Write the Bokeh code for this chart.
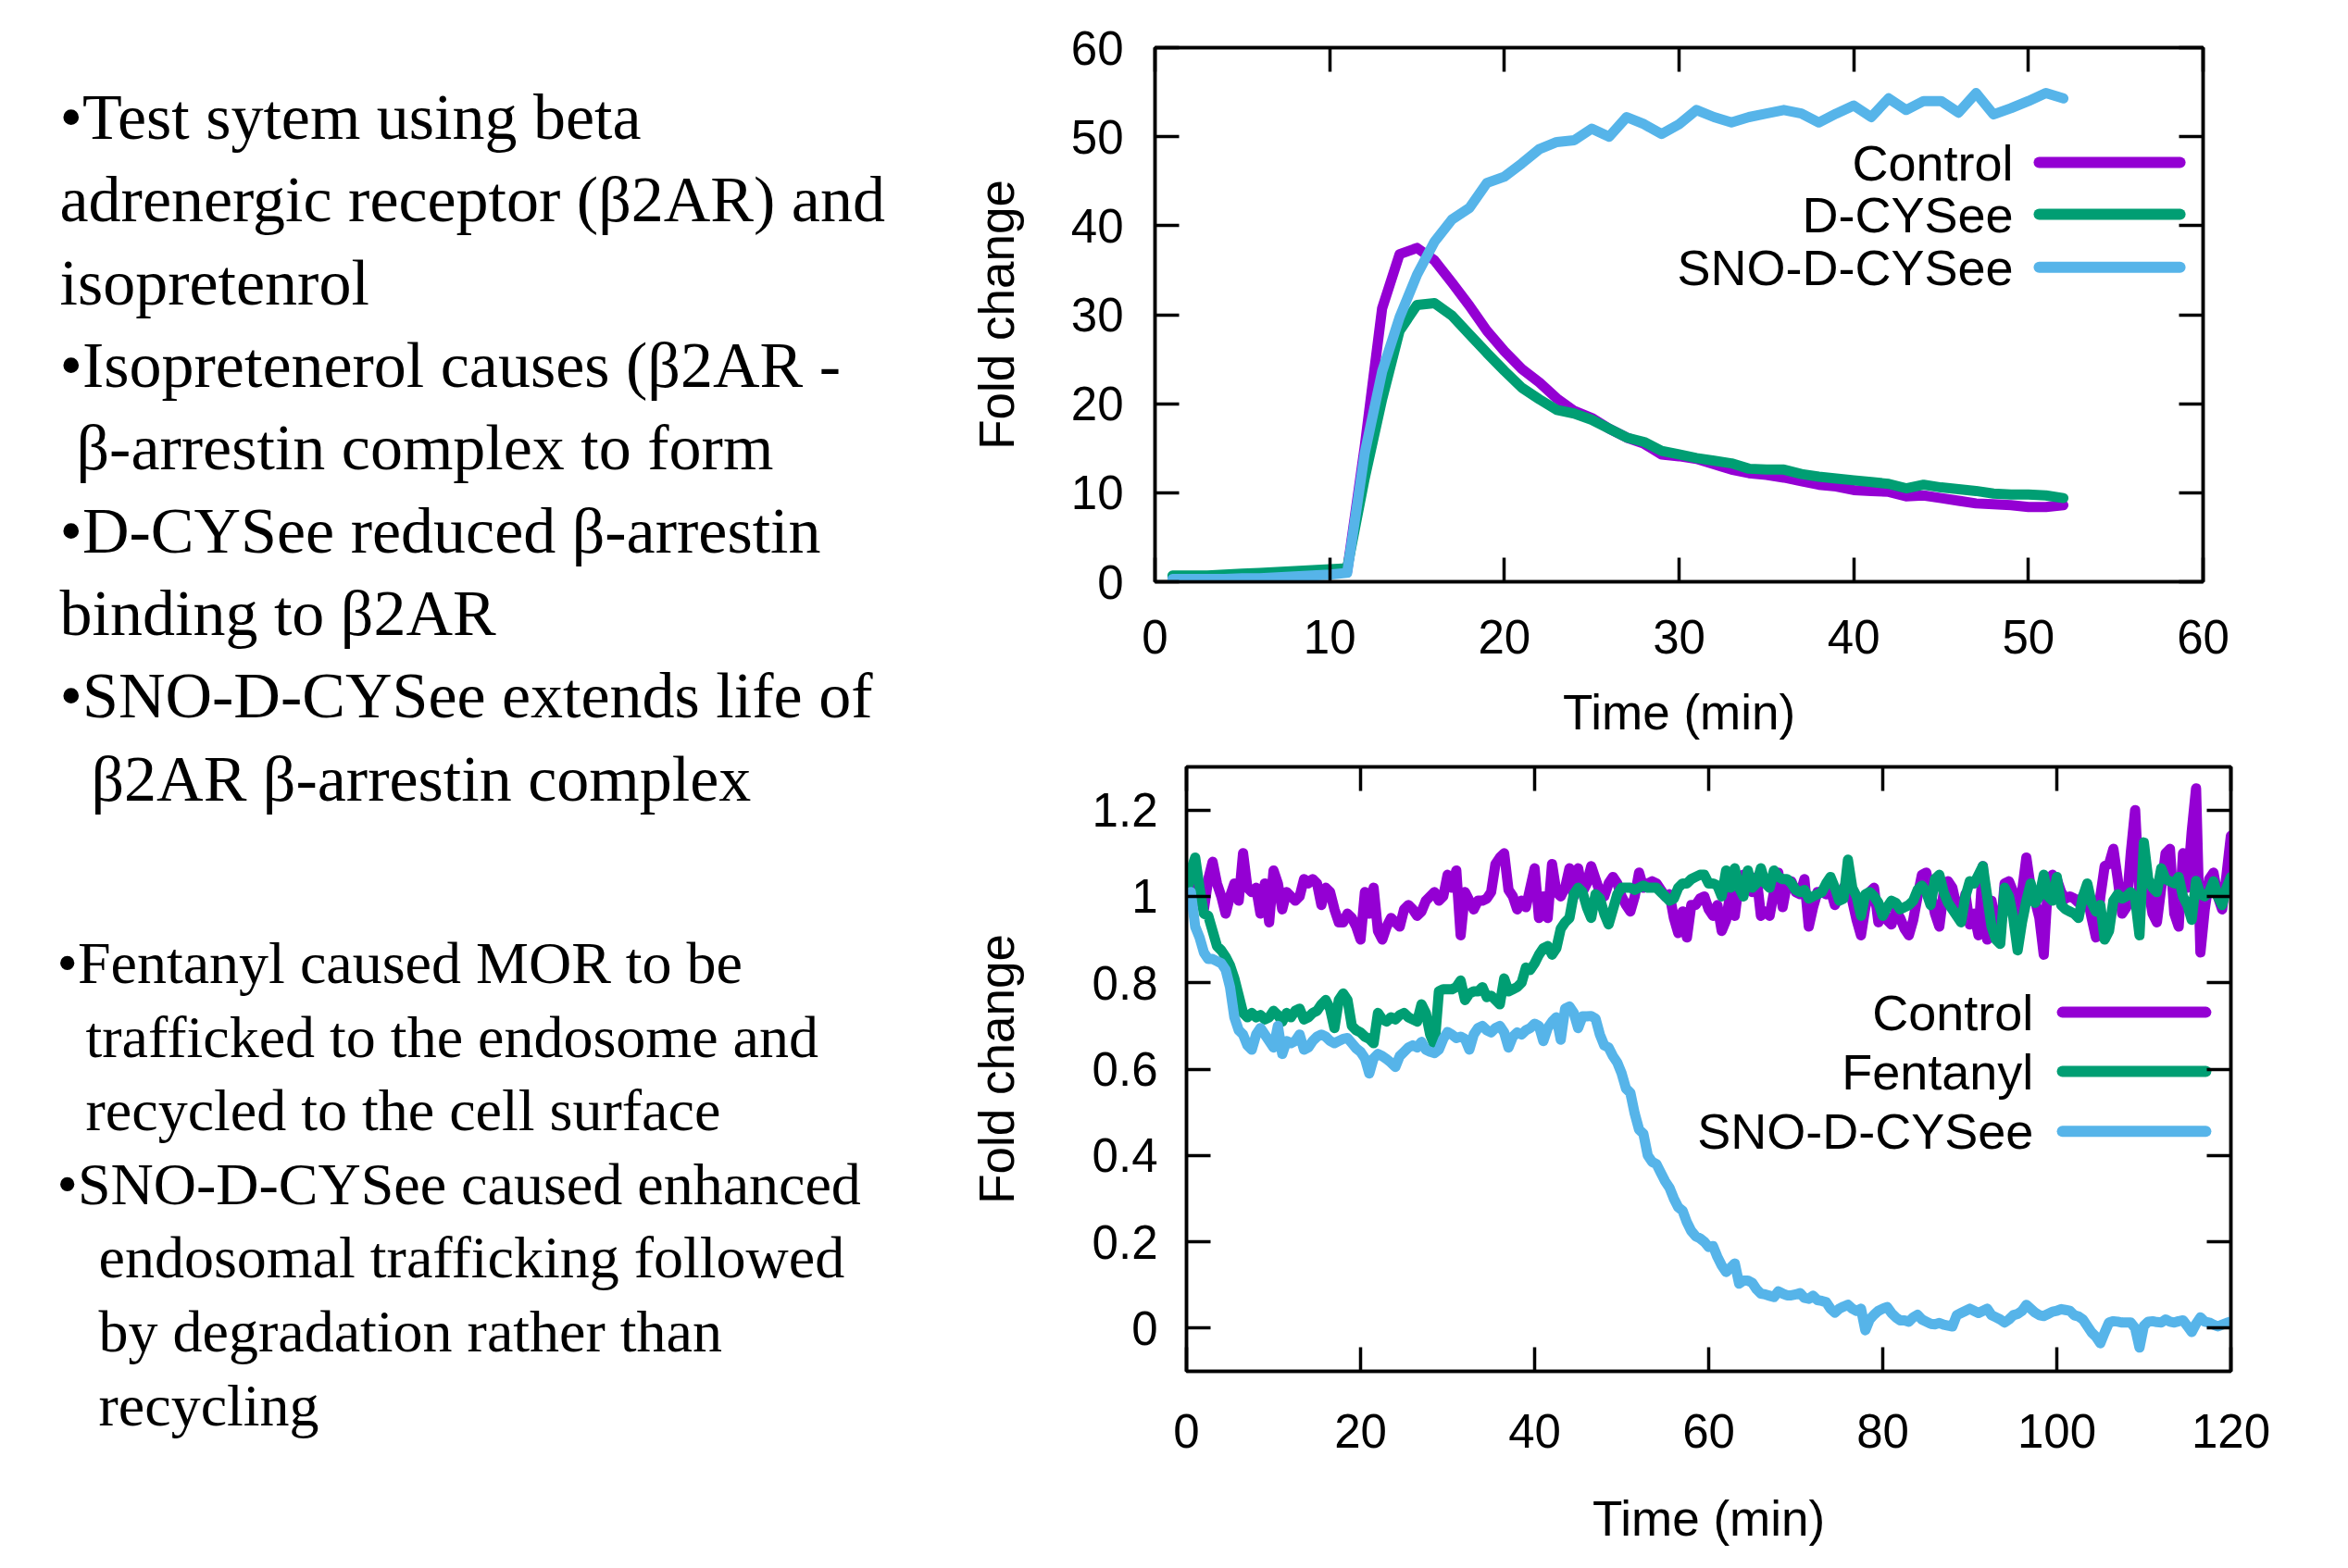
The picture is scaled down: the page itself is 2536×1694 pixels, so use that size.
from bokeh.plotting import figure
from bokeh.models import Range1d, LinearAxis, FixedTicker, CustomJSTickFormatter, Label
from bokeh.layouts import row, column
from bokeh.embed import file_html
from bokeh.resources import INLINE
from bokeh.core.properties import value

# ---------------- data: top chart (beta2AR / beta-arrestin) ----------------
top_time = list(range(1, 53))
top_control = [0.5, 0.5, 0.5, 0.5, 0.6, 0.6, 0.7, 0.8, 0.9, 1.0, 1.2,
               15.1, 30.7, 36.8, 37.5, 36.1, 33.6, 31.0, 28.2, 25.9, 23.9, 22.4, 20.6,
               19.2, 18.4, 17.2, 16.2, 15.5, 14.3, 14.1, 13.8, 13.2, 12.6, 12.2, 12.0,
               11.7, 11.3, 10.9, 10.7, 10.3, 10.2, 10.1, 9.6, 9.7, 9.4, 9.1, 8.8,
               8.7, 8.6, 8.4, 8.4, 8.6]
top_dcysee = [0.7, 0.7, 0.7, 0.8, 0.9, 1.0, 1.1, 1.2, 1.3, 1.4, 1.5,
              11.6, 20.5, 28.2, 31.1, 31.3, 29.9, 27.8, 25.7, 23.7, 21.8, 20.5, 19.3,
              18.9, 18.2, 17.2, 16.2, 15.7, 14.7, 14.3, 13.9, 13.6, 13.3, 12.7, 12.6,
              12.6, 12.1, 11.8, 11.6, 11.4, 11.2, 11.0, 10.5, 10.9, 10.6, 10.4, 10.2,
              9.9, 9.8, 9.8, 9.7, 9.4]
top_sno = [0.3, 0.3, 0.3, 0.3, 0.4, 0.4, 0.5, 0.6, 0.7, 0.8, 1.0,
           14.4, 23.6, 29.7, 34.5, 38.2, 40.7, 42.0, 44.8, 45.5, 47.0, 48.6, 49.4,
           49.6, 50.9, 50.0, 52.2, 51.4, 50.3, 51.4, 53.0, 52.2, 51.6, 52.2, 52.6,
           53.0, 52.6, 51.6, 52.6, 53.5, 52.2, 54.3, 53.0, 54.0, 54.0, 52.7, 54.9,
           52.5, 53.2, 54.0, 54.9, 54.3]
top_labels = ["Control", "D-CYSee", "SNO-D-CYSee"]
top_xticks = [0, 10, 20, 30, 40, 50, 60]
top_yticks = [0, 10, 20, 30, 40, 50, 60]

# ---------------- data: bottom chart (MOR) ----------------
bot_time = [k / 2 for k in range(241)]  # 0 .. 120 min, every 30 s
bot_control = [
    0.98, 1.03, 1.06, 1.00, 0.97, 1.04, 1.08, 1.03, 1.00, 0.96,
    1.00, 1.03, 0.99, 1.10, 1.02, 1.01, 1.02, 0.96, 1.03, 0.94,
    1.06, 1.03, 0.97, 1.01, 1.00, 0.99, 1.00, 1.04, 1.03, 1.04,
    1.03, 0.98, 1.02, 1.01, 0.97, 0.94, 0.94, 0.96, 0.95, 0.93,
    0.90, 1.01, 0.96, 1.02, 0.92, 0.90, 0.93, 0.95, 0.94, 0.93,
    0.97, 0.98, 0.97, 0.955, 0.965, 0.99, 1.00, 1.01, 0.99, 1.00, 1.05,
    1.02, 1.06, 0.91, 1.01, 0.99, 0.97, 0.99, 0.99, 0.995, 1.01,
    1.075, 1.09, 1.10, 1.015, 1.00, 0.97, 0.99, 0.975, 1.02, 1.065,
    0.95, 1.00, 0.95, 1.075, 1.01, 1.00, 1.02, 1.065, 1.00, 1.065,
    1.01, 1.03, 1.07, 1.04, 1.01, 1.00, 1.03, 1.045, 1.03, 1.00,
    0.98, 0.965, 1.00, 1.055, 1.02, 1.03, 1.035, 1.03, 1.015, 1.00,
    1.005, 0.95, 0.915, 0.965, 0.905, 0.98, 0.98, 0.995, 1.0, 0.97,
    0.955, 0.98, 0.92, 0.945, 1.01, 0.955, 1.035, 1.05, 1.05, 1.01,
    1.045, 0.955, 0.965, 0.955, 1.01, 1.055, 0.975, 1.03, 1.035, 1.01,
    1.005, 1.04, 0.93, 0.975, 1.01, 1.01, 1.005, 1.015, 0.98, 1.0,
    1.02, 1.035, 0.99, 0.945, 0.91, 0.975, 1.01, 1.02, 0.94, 0.97,
    0.945, 0.935, 0.965, 0.95, 0.925, 0.91, 0.945, 1.00, 1.05, 1.055,
    1.01, 0.96, 0.93, 1.01, 1.035, 1.02, 0.975, 0.95, 1.005, 0.935,
    0.96, 0.91, 1.07, 0.90, 0.99, 0.93, 0.91, 1.03, 1.035, 1.01,
    0.92, 1.01, 1.09, 1.02, 0.99, 0.95, 0.865, 1.035, 1.05, 1.04,
    1.01, 0.995, 1.0, 0.995, 0.985, 1.0, 1.0, 0.95, 0.905, 1.00,
    1.07, 1.075, 1.11, 1.04, 0.96, 0.975, 1.10, 1.20, 1.0, 1.10,
    1.02, 0.96, 0.94, 1.02, 1.10, 1.11, 0.96, 0.93, 1.10, 1.02,
    1.15, 1.25, 0.87, 0.97, 1.04, 1.055, 1.00, 0.97, 1.05, 1.14]
bot_fentanyl = [
    1.00, 1.06, 1.09, 1.02, 0.96, 0.955, 0.92, 0.885, 0.875, 0.86,
    0.84, 0.81, 0.77, 0.73, 0.72, 0.73, 0.72, 0.725, 0.715, 0.72,
    0.735, 0.725, 0.71, 0.73, 0.72, 0.735, 0.74, 0.715, 0.72, 0.73,
    0.735, 0.75, 0.76, 0.74, 0.695, 0.76, 0.775, 0.76, 0.70, 0.69,
    0.685, 0.675, 0.67, 0.66, 0.73, 0.715, 0.71, 0.72, 0.715, 0.725,
    0.73, 0.72, 0.715, 0.71, 0.75, 0.73, 0.68, 0.655, 0.78, 0.785, 0.785,
    0.785, 0.79, 0.805, 0.76, 0.775, 0.78, 0.78, 0.79, 0.767, 0.77,
    0.76, 0.75, 0.81, 0.78, 0.785, 0.79, 0.80, 0.835, 0.83, 0.845,
    0.865, 0.88, 0.885, 0.865, 0.88, 0.925, 0.94, 0.95, 1.005, 1.02,
    1.01, 0.975, 0.95, 1.005, 0.995, 0.96, 0.935, 0.97, 1.005, 1.02,
    1.02, 1.02, 1.015, 1.02, 1.025, 1.02, 1.02, 1.02, 1.01, 1.00,
    0.99, 0.995, 1.02, 1.03, 1.03, 1.04, 1.045, 1.05, 1.05, 1.03,
    1.03, 1.025, 1.00, 1.06, 1.02, 1.065, 1.02, 1.00, 1.06, 1.02,
    1.03, 1.065, 1.03, 1.02, 1.06, 1.045, 1.04, 1.04, 1.03, 1.015,
    1.01, 1.015, 0.995, 1.00, 1.005, 1.01, 1.03, 1.045, 1.02, 0.99,
    0.995, 1.085, 1.02, 1.00, 0.955, 1.005, 1.01, 1.00, 0.985, 0.955,
    0.975, 0.99, 0.985, 0.97, 0.975, 0.98, 0.99, 1.015, 1.025, 1.01,
    0.98, 1.04, 1.05, 1.01, 0.985, 0.97, 0.955, 0.94, 1.0, 1.035,
    1.03, 1.05, 1.07, 1.00, 0.93, 0.90, 0.89, 1.02, 1.00, 0.95,
    0.875, 0.94, 0.99, 1.03, 0.985, 1.00, 1.05, 1.00, 0.99, 1.045,
    0.98, 0.97, 0.965, 0.96, 0.95, 1.00, 1.03, 0.985, 0.965, 0.98,
    0.90, 0.92, 0.99, 1.005, 0.995, 1.0, 1.01, 0.995, 0.91, 1.125,
    1.04, 1.02, 1.01, 1.065, 1.04, 1.035, 1.03, 1.045, 1.0, 0.98,
    0.946, 1.036, 1.005, 1.0, 1.01, 1.035, 1.0, 0.98, 1.02, 1.045]
bot_sno = [
    0.98, 1.01, 0.93, 0.905, 0.87, 0.855, 0.855, 0.85, 0.845, 0.83,
    0.79, 0.72, 0.69, 0.68, 0.655, 0.645, 0.68, 0.695, 0.68, 0.665,
    0.65, 0.70, 0.635, 0.665, 0.66, 0.665, 0.68, 0.645, 0.65, 0.665,
    0.675, 0.68, 0.675, 0.665, 0.66, 0.665, 0.67, 0.672, 0.66, 0.648,
    0.64, 0.625, 0.59, 0.625, 0.635, 0.63, 0.623, 0.615, 0.605, 0.63,
    0.64, 0.65, 0.655, 0.65, 0.663, 0.645, 0.64, 0.637, 0.645, 0.67, 0.686,
    0.68, 0.672, 0.675, 0.67, 0.645, 0.68, 0.695, 0.70, 0.69, 0.685,
    0.695, 0.70, 0.685, 0.65, 0.675, 0.685, 0.68, 0.69, 0.695, 0.705,
    0.70, 0.665, 0.695, 0.71, 0.72, 0.668, 0.74, 0.745, 0.73, 0.695,
    0.722, 0.722, 0.723, 0.717, 0.68, 0.655, 0.65, 0.63, 0.615, 0.59,
    0.555, 0.545, 0.497, 0.46, 0.45, 0.40, 0.385, 0.38, 0.36, 0.34,
    0.325, 0.30, 0.28, 0.272, 0.245, 0.225, 0.213, 0.208, 0.20, 0.188,
    0.19, 0.165, 0.145, 0.13, 0.14, 0.15, 0.103, 0.11, 0.11, 0.105,
    0.09, 0.08, 0.078, 0.075, 0.072, 0.085, 0.08, 0.076, 0.076, 0.078,
    0.081, 0.07, 0.068, 0.075, 0.065, 0.063, 0.06, 0.045, 0.036, 0.045,
    0.05, 0.054, 0.045, 0.04, 0.045, -0.005, 0.02, 0.031, 0.04, 0.045,
    0.049, 0.035, 0.025, 0.018, 0.018, 0.015, 0.025, 0.031, 0.02, 0.015,
    0.01, 0.009, 0.012, 0.008, 0.006, 0.004, 0.03, 0.035, 0.04, 0.045,
    0.04, 0.035, 0.04, 0.045, 0.03, 0.025, 0.02, 0.013, 0.02, 0.03,
    0.033, 0.04, 0.054, 0.045, 0.036, 0.03, 0.028, 0.033, 0.038, 0.04,
    0.044, 0.042, 0.04, 0.03, 0.027, 0.02, 0.005, -0.01, -0.02, -0.035,
    -0.01, 0.013, 0.016, 0.015, 0.013, 0.013, 0.013, 0.0, -0.045, 0.005,
    0.015, 0.016, 0.014, 0.013, 0.02, 0.015, 0.013, 0.016, 0.018, 0.005,
    -0.009, 0.01, 0.025, 0.015, 0.013, 0.008, 0.004, 0.008, 0.012, 0.015]
bot_labels = ["Control", "Fentanyl", "SNO-D-CYSee"]
bot_xticks = [0, 20, 40, 60, 80, 100, 120]
bot_yticks = [0, 0.2, 0.4, 0.6, 0.8, 1.0, 1.2]

# ---------------- slide text ----------------
text_block1 = ["\u2022Test sytem using beta",
               "adrenergic receptor (\u03b22AR) and",
               "isopretenrol",
               "\u2022Isopretenerol causes (\u03b22AR -",
               "\u03b2-arrestin complex to form",
               "\u2022D-CYSee reduced \u03b2-arrestin",
               "binding to \u03b22AR",
               "\u2022SNO-D-CYSee extends life of",
               "\u03b22AR \u03b2-arrestin complex"]
text_block2 = ["\u2022Fentanyl caused MOR to be",
               "trafficked to the endosome and",
               "recycled to the cell surface",
               "\u2022SNO-D-CYSee caused enhanced",
               "endosomal trafficking followed",
               "by degradation rather than",
               "recycling"]

# ---------------- style ----------------
COLORS = ["#9400D3", "#009E73", "#56B4E9"]
SANS = "Liberation Sans"
SERIF = "Liberation Serif"
TICK_FS = "51px"
LABEL_FS = "53px"
LEGEND_FS = "54px"
LW = 11

PAGE_W, PAGE_H = 2530, 1690
TEXT_W = 1040
CHART_W = PAGE_W - TEXT_W
TOP_H = 812
BOT_H = PAGE_H - TOP_H


def make_chart(width, height, borders, xr, yr, xticks, yticks, fmt_code,
               ylab_standoff, xlab_standoff, ytick_standoff, xtick_standoff):
    left, right, top, bottom = borders
    p = figure(width=width, height=height, output_backend="svg", title=None,
               toolbar_location=None, x_range=Range1d(*xr), y_range=Range1d(*yr),
               min_border_left=left, min_border_right=right,
               min_border_top=top, min_border_bottom=bottom)
    p.xgrid.visible = False
    p.ygrid.visible = False
    p.outline_line_color = "black"
    p.outline_line_width = 3.5
    p.background_fill_color = "white"
    p.border_fill_color = "white"

    def style(ax, ticks, labels=True):
        ax.ticker = FixedTicker(ticks=ticks)
        ax.major_tick_in = 26
        ax.major_tick_out = 0
        ax.major_tick_line_width = 3.5
        ax.major_tick_line_color = "black"
        ax.minor_tick_line_color = None
        ax.axis_line_width = 3.5
        ax.axis_line_color = "black"
        ax.major_label_text_font = SANS
        ax.major_label_text_font_size = TICK_FS
        ax.major_label_text_color = "black"
        ax.axis_label_text_font = SANS
        ax.axis_label_text_font_size = LABEL_FS
        ax.axis_label_text_font_style = "normal"
        ax.axis_label_text_color = "black"
        if not labels:
            ax.formatter = CustomJSTickFormatter(code="return ''")
            ax.major_label_standoff = 0
            ax.major_label_text_font_size = "1px"

    style(p.xaxis[0], xticks)
    style(p.yaxis[0], yticks)
    p.yaxis[0].formatter = CustomJSTickFormatter(code=fmt_code)
    p.xaxis[0].formatter = CustomJSTickFormatter(code="return tick.toFixed(0)")
    p.xaxis.axis_label = "Time (min)"
    p.yaxis.axis_label = "Fold change"
    p.yaxis.major_label_standoff = ytick_standoff
    p.xaxis.major_label_standoff = xtick_standoff
    p.yaxis.axis_label_standoff = ylab_standoff
    p.xaxis.axis_label_standoff = xlab_standoff

    ra = LinearAxis()
    style(ra, yticks, labels=False)
    p.add_layout(ra, "right")
    ta = LinearAxis()
    style(ta, xticks, labels=False)
    p.add_layout(ta, "above")
    return p


def add_legend(p, xr, yr, labels, text_fx, line_fx0, line_fx1, row_fy):
    # legend placed by fractions of the frame (x from left, y from top)
    def X(f):
        return xr[0] + f * (xr[1] - xr[0])

    def Y(f):
        return yr[1] - f * (yr[1] - yr[0])

    for lab, col, fy in zip(labels, COLORS, row_fy):
        p.add_layout(Label(x=X(text_fx), y=Y(fy), text=lab, text_align="right",
                           text_baseline="middle", text_font=SANS,
                           text_font_size=LEGEND_FS, text_color="black"))
        p.line([X(line_fx0), X(line_fx1)], [Y(fy), Y(fy)], line_color=col,
               line_width=LW + 1, line_cap="round")


# ---------------- top chart ----------------
TXR, TYR = (0, 60), (0, 60)
top = make_chart(CHART_W, TOP_H, (207, CHART_W - 207 - 1132, 51, TOP_H - 51 - 577),
                 TXR, TYR, top_xticks, top_yticks,
                 "return tick.toFixed(0)", 48, 31, 34, 41)
for ys, col in zip([top_control, top_dcysee, top_sno], COLORS):
    top.line(top_time, ys, line_color=col, line_width=LW,
             line_join="round", line_cap="round")
add_legend(top, TXR, TYR, top_labels, 0.819, 0.8436, 0.978, [0.215, 0.312, 0.411])

# ---------------- bottom chart ----------------
BXR, BYR = (0, 120), (-0.1, 1.3)
bot_top_border = 828 - TOP_H
bot = make_chart(CHART_W, BOT_H, (241, CHART_W - 241 - 1128, bot_top_border,
                                  BOT_H - bot_top_border - 653),
                 BXR, BYR, bot_xticks, bot_yticks,
                 "return (Math.round(tick*10)/10).toString()", 71, 44, 31, 46)
for ys, col in zip([bot_control, bot_fentanyl, bot_sno], COLORS):
    bot.line(bot_time, ys, line_color=col, line_width=LW,
             line_join="round", line_cap="round")
add_legend(bot, BXR, BYR, bot_labels, 0.811, 0.8387, 0.976, [0.406, 0.504, 0.603])

# ---------------- slide text panel ----------------
tp = figure(width=TEXT_W, height=PAGE_H, output_backend="svg", toolbar_location=None,
            title=None, x_range=Range1d(0, TEXT_W), y_range=Range1d(PAGE_H, 0),
            min_border=0)
tp.axis.visible = False
tp.grid.visible = False
tp.outline_line_color = None
tp.background_fill_color = "white"
tp.border_fill_color = "white"

b1_x = [64, 64, 64, 64, 82, 64, 64, 64, 98]
b1_y = [126, 215, 305, 394, 483, 573, 662, 751, 841]
b2_x = [61, 92, 92, 61, 106, 106, 106]
b2_y = [1040, 1120, 1199, 1279, 1358, 1438, 1518]
tp.text(x=b1_x, y=b1_y, text=text_block1, text_font=value(SERIF),
        text_font_size="70px", text_baseline="alphabetic", text_align="left",
        text_color="black")
tp.text(x=b2_x, y=b2_y, text=text_block2, text_font=value(SERIF),
        text_font_size="64px", text_baseline="alphabetic", text_align="left",
        text_color="black")

layout = row(tp, column(column(top), column(bot), spacing=0), spacing=0)
open("out.html", "w").write(file_html(layout, INLINE))
